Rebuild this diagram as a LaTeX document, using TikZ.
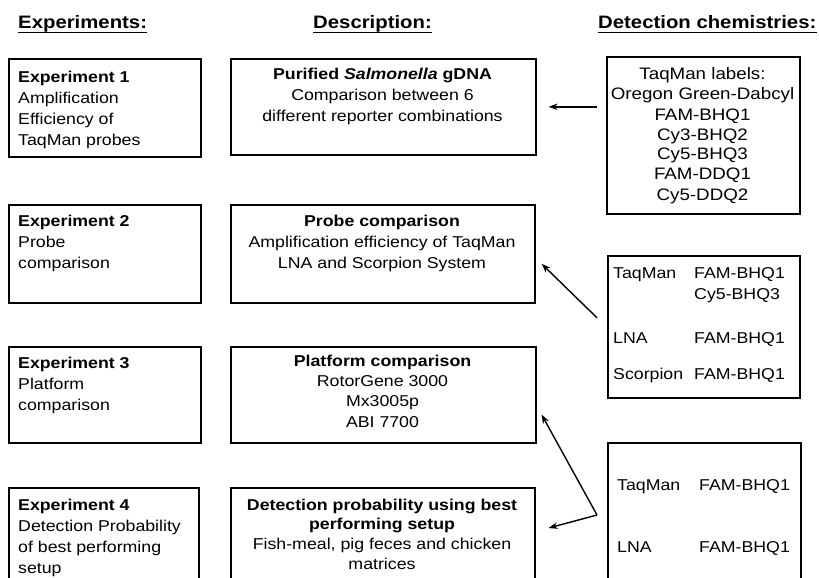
\documentclass[tikz,border=0pt]{standalone}
\usepackage{fontspec}
\setmainfont[FakeStretch=1.13]{Liberation Sans}
\usetikzlibrary{arrows.meta,calc}
% multi-line blocks whose base is the baseline of their first line
\newcommand\leftpar[1]{\parbox[t]{185pt}{\raggedright #1}}
\newcommand\midpar[1]{\parbox[t]{300pt}{\centering #1}}

\begin{document}
\begin{tikzpicture}[x=1pt,y=-1pt,
  box/.style={draw=black, line width=1.6pt, rectangle, inner sep=0pt, anchor=north west},
  body/.style={inner sep=0pt, font=\fontsize{15.7}{21}\selectfont},
  bigbody/.style={inner sep=0pt, font=\fontsize{16.6}{20}\selectfont},
  head/.style={inner sep=0pt, anchor=base west, font=\fontsize{18}{22}\selectfont\bfseries},
  uline/.style={line width=1.3pt},
  arr/.style={line width=1.4pt, -{Stealth[length=9pt,width=6.5pt]}}]

\useasboundingbox (0,0) rectangle (819,578);
\clip (0,0) rectangle (819,578);

% column headings
\node[head] (hexp) at (18,29) {Experiments:};
\node[head] (hdesc) at (313,29) {Description:};
\node[head] (hdet) at (598,29) {Detection chemistries:};
\foreach \h in {hexp,hdesc,hdet}
  \draw[uline] ([yshift=-3.5pt]\h.base west) -- ([yshift=-3.5pt]\h.base east);

% experiment boxes
\node[box, minimum width=192, minimum height=98] (exp1) at (8,58) {};
\node[box, minimum width=192, minimum height=98] (exp2) at (8,204) {};
\node[box, minimum width=192, minimum height=96] (exp3) at (8,346) {};
\node[box, minimum width=190, minimum height=113] (exp4) at (8,487) {};

\node[body, anchor=base west] (exp1t) at (18,82.5)
  {\leftpar{\textbf{Experiment 1}\\Amplification\\Efficiency of\\TaqMan probes}};
\node[body, anchor=base west] (exp2t) at (18,226.5)
  {\leftpar{\textbf{Experiment 2}\\Probe\\comparison}};
\node[body, anchor=base west] (exp3t) at (18,368)
  {\leftpar{\textbf{Experiment 3}\\Platform\\comparison}};
\node[body, anchor=base west] (exp4t) at (18,510)
  {\leftpar{\textbf{Experiment 4}\\Detection Probability\\of best performing\\setup}};

% description boxes
\node[box, minimum width=305, minimum height=96] (desc1) at (230,58) {};
\node[box, minimum width=304, minimum height=98] (desc2) at (230,204) {};
\node[box, minimum width=305, minimum height=96] (desc3) at (230,346) {};
\node[box, minimum width=304, minimum height=113] (desc4) at (230,487) {};

\node[body, anchor=base] (desc1t) at (382.5,79)
  {\midpar{\textbf{Purified \textit{Salmonella} gDNA}\\Comparison between 6\\different reporter combinations}};
\node[body, anchor=base] (desc2t) at (382,226.5)
  {\midpar{\textbf{Probe comparison}\\Amplification efficiency of TaqMan\\LNA and Scorpion System}};
\node[body, anchor=base, font=\fontsize{15.7}{20.1}\selectfont] (desc3t) at (382.5,366.7)
  {\midpar{\textbf{Platform comparison}\\RotorGene 3000\\Mx3005p\\ABI 7700}};
\node[body, anchor=base, font=\fontsize{15.7}{19.8}\selectfont] (desc4t) at (382,510)
  {\midpar{\textbf{Detection probability using best}\\\textbf{performing setup}\\Fish-meal, pig feces and chicken\\matrices}};

% detection chemistry boxes
\node[box, minimum width=193, minimum height=157] (det1) at (606,56) {};
\node[box, minimum width=192, minimum height=142] (det2) at (607,255) {};
\node[box, minimum width=193, minimum height=158] (det3) at (607,442) {};

\node[bigbody, anchor=base] (det1t) at (702.5,80)
  {\midpar{TaqMan labels:\\Oregon Green-Dabcyl\\FAM-BHQ1\\Cy3-BHQ2\\Cy5-BHQ3\\FAM-DDQ1\\Cy5-DDQ2}};
\node[body, anchor=base west, font=\fontsize{15.7}{21.5}\selectfont] (det2t) at (613,278)
  {\begin{tabular}[t]{@{}p{81pt}@{}l@{}}
     TaqMan & FAM-BHQ1\\
            & Cy5-BHQ3\\[22pt]
     LNA & FAM-BHQ1\\[14.5pt]
     Scorpion & FAM-BHQ1
   \end{tabular}};
\node[body, anchor=base west, font=\fontsize{15.7}{21.5}\selectfont] (det3t) at (617,490)
  {\begin{tabular}[t]{@{}p{82pt}@{}l@{}}
     TaqMan & FAM-BHQ1\\[40.5pt]
     LNA & FAM-BHQ1
   \end{tabular}};

% connectors
\draw[arr, shorten <=9pt, shorten >=12pt] (desc1.east -| det1.west) -- (desc1.east);

\coordinate (a2s) at ($(det2.west)+(-10,-9)$);
\coordinate (a2e) at ($(desc2.east)+(6,10)$);
\draw[arr] (a2s) -- (a2e);

\coordinate (fork) at ($(det3.north west)+(-10,73)$);
\coordinate (a3up) at ($(desc3.south east)+(5,-29)$);
\coordinate (a3dn) at ($(desc4.north east)+(13,41)$);
\draw[arr] (fork) -- (a3up);
\draw[arr] (fork) -- (a3dn);
\end{tikzpicture}
\end{document}
